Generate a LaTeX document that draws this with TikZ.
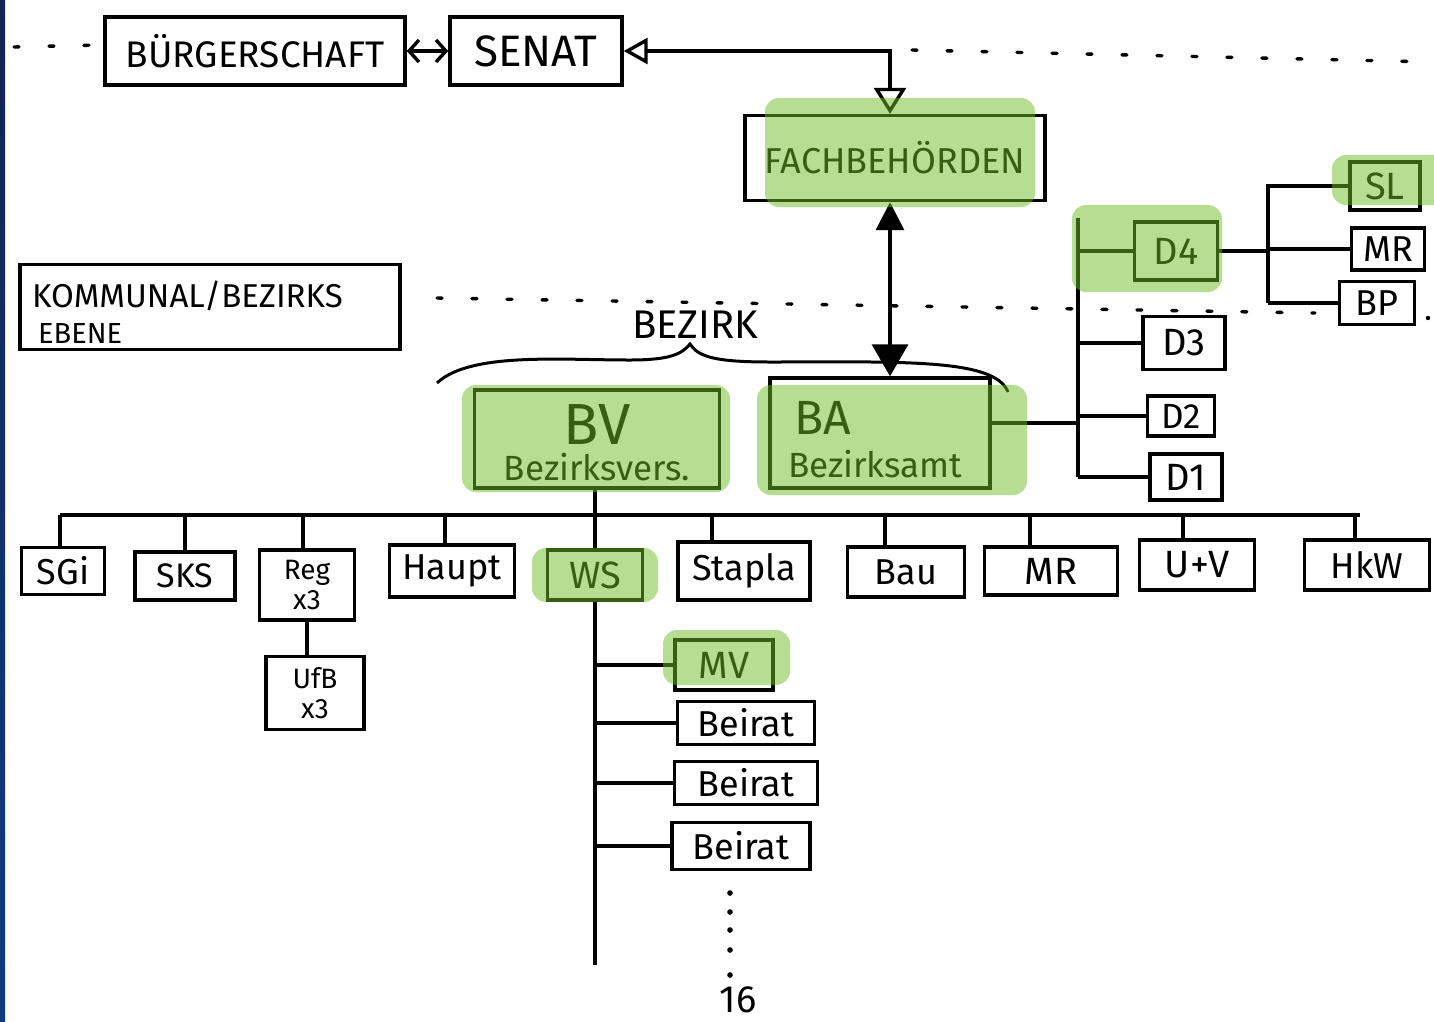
\documentclass[tikz,border=0pt]{standalone}
\usepackage{fontspec}
\setmainfont{Fira Sans}
\usetikzlibrary{arrows.meta,calc}
\newcommand\myfs[1]{\fontsize{#1}{#1}\selectfont}
\begin{document}
\begin{tikzpicture}[x=1pt,y=-1pt,
  box/.style={draw, line width=3.4pt, inner sep=0pt, align=center},
  hl/.style={fill={rgb,255:red,110;green,190;blue,40}, fill opacity=0.5, rounded corners=14pt},
  ln/.style={line width=3.4pt},
  dotline/.style={line width=3.4pt, dash pattern=on 5pt off 30pt, line cap=round},
  lbl/.style={inner sep=0pt, align=left}]
\useasboundingbox (0,0) rectangle (1434,1021);
\fill[white] (0,0) rectangle (1434,1021);
\shade[top color={rgb,255:red,20;green,35;blue,85}, bottom color={rgb,255:red,15;green,60;blue,130}] (0,0) rectangle (5,1021);

% level separators
\draw[dotline] (14,47) -- (100,45);
\draw[dotline] (912,50) -- (1434,62);
\draw[dotline] (437,298) -- (1315,313);
\fill (1428,318) circle (2.2pt);

% top level
\node[box, minimum width=300pt, minimum height=68pt, font=\myfs{37}] (bs) at (255,51) {BÜRGERSCHAFT};
\node[box, minimum width=172pt, minimum height=68pt, font=\myfs{44}] (senat) at (536,51) {SENAT};
\node[box, minimum width=300pt, minimum height=85pt, font=\myfs{36}] (fach) at (895,158) {FACHBEHÖRDEN};
\coordinate (ax) at (890,0);

\draw[ln, {Straight Barb[length=10pt,width=22pt]}-{Straight Barb[length=10pt,width=22pt]}] (bs.east) -- (senat.west);
\draw[ln, {Triangle[open,length=24pt,width=26pt]}-{Triangle[open,length=26pt,width=32pt]}] (senat.east) -| (fach.north -| ax);

% Kommunal level
\node[box, minimum width=380pt, minimum height=85pt] (kom) at (210,307) {};
\node[lbl, font=\myfs{33}, anchor=west] (komt) at (32,296) {KOMMUNAL/BEZIRKS};
\node[lbl, font=\myfs{29}, anchor=west] (komt2) at (38,334) {EBENE};

\node[font=\myfs{40}, inner sep=0pt] (bez) at (695,325) {BEZIRK};
\draw[line width=3pt] (437,383) .. controls (470,352) and (560,360) .. (630,360)
  .. controls (670,360) and (682,354) .. (690,344)
  .. controls (698,356) and (712,362) .. (770,362)
  .. controls (900,362) and (995,358) .. (1008,392);

\node[box, minimum width=245pt, minimum height=98pt] (bv) at (597,439) {};
\node[font=\myfs{58}, inner sep=0pt] (bvt) at (597,425) {BV};
\node[font=\myfs{35}, inner sep=0pt] (bvt2) at (597,467) {Bezirksvers.};

\node[box, minimum width=220pt, minimum height=110pt] (ba) at (880,433) {};
\node[lbl, font=\myfs{48}, anchor=west] (bat) at (794,418) {BA};
\node[lbl, font=\myfs{35}, anchor=west] (bat2) at (788,464) {Bezirksamt};

\draw[ln, {Triangle[length=28pt,width=28pt]}-{Triangle[length=32pt,width=36pt]}] (fach.south -| ax) -- (ba.north -| ax);

% Dezernate
\node[box, minimum width=83pt, minimum height=58pt, font=\myfs{38}] (d4) at (1176,251) {D4};
\node[box, minimum width=82pt, minimum height=53pt, font=\myfs{38}] (d3) at (1184,343) {D3};
\node[box, minimum width=67pt, minimum height=40pt, font=\myfs{35}] (d2) at (1181,416) {D2};
\node[box, minimum width=72pt, minimum height=46pt, font=\myfs{38}] (d1) at (1186,477) {D1};
\coordinate (dtop) at (1078,218);
\draw[ln] (dtop) -- (d1.west -| dtop);
\draw[ln] ($(ba.east)+(0,-10)$) -- ($(ba.east -| dtop)+(0,-10)$);
\draw[ln] (d4.west -| dtop) -- (d4.west);
\draw[ln] (d3.west -| dtop) -- (d3.west);
\draw[ln] (d2.west -| dtop) -- (d2.west);
\draw[ln] (d1.west -| dtop) -- (d1.west);

\node[box, minimum width=70pt, minimum height=48pt, font=\myfs{38}] (sl) at (1385,186) {SL};
\node[box, minimum width=73pt, minimum height=42pt, font=\myfs{36}] (mr1) at (1388,249) {MR};
\node[box, minimum width=75pt, minimum height=43pt, font=\myfs{36}] (bp) at (1377,303) {BP};
\coordinate (rtop) at (1268,184);
\draw[ln] (rtop) -- (bp.west -| rtop);
\draw[ln] (d4.east) -- (d4.east -| rtop);
\draw[ln] (sl.west -| rtop) -- (sl.west);
\draw[ln] (mr1.west -| rtop) -- (mr1.west);
\draw[ln] (bp.west -| rtop) -- (bp.west);

% committees
\coordinate (busL) at (60,515);
\coordinate (busR) at (1360,515);
\draw[ln] (busL) -- (busR);
\node[box, minimum width=83pt, minimum height=47pt, font=\myfs{36}] (sgi) at (63,571) {SGi};
\node[box, minimum width=100pt, minimum height=48pt, font=\myfs{34}] (sks) at (185,576) {SKS};
\node[box, minimum width=95pt, minimum height=70pt, font=\fontsize{28}{30}\selectfont] (reg) at (307,585) {Reg\\x3};
\node[box, minimum width=98pt, minimum height=73pt, font=\fontsize{28}{30}\selectfont] (ufb) at (315,693) {UfB\\x3};
\node[box, minimum width=125pt, minimum height=52pt, font=\myfs{36}] (haupt) at (452,571) {Haupt};
\node[box, minimum width=95pt, minimum height=50pt, font=\myfs{38}] (ws) at (595,575) {WS};
\node[box, minimum width=132pt, minimum height=58pt, font=\myfs{36}] (stapla) at (744,571) {Stapla};
\node[box, minimum width=117pt, minimum height=50pt, font=\myfs{36}] (bau) at (906,572) {Bau};
\node[box, minimum width=133pt, minimum height=48pt, font=\myfs{38}] (mr2) at (1051,571) {MR};
\node[box, minimum width=115pt, minimum height=50pt, font=\myfs{38}] (uv) at (1197,565) {U+V};
\node[box, minimum width=125pt, minimum height=50pt, font=\myfs{36}] (hkw) at (1367,565) {HkW};

\foreach \n/\dx in {sgi/-3,sks/0,reg/-4,haupt/-7,stapla/-32,bau/-21,mr2/-21,uv/-14,hkw/-12}
  \draw[ln] ($(\n.north)+(\dx,0)$) -- ($(\n.north |- busL)+(\dx,0)$);
\draw[ln] (bv.south -| ws.north) -- (ws.north);
\draw[ln] (reg.south) -- (reg.south |- ufb.north);

% WS sub-bodies
\coordinate (wsb) at (595,965);
\draw[ln] (ws.south) -- (wsb);
\node[box, minimum width=98pt, minimum height=50pt, font=\myfs{38}] (mv) at (724,665) {MV};
\node[box, minimum width=137pt, minimum height=43pt, font=\myfs{36}] (br1) at (746,723) {Beirat};
\node[box, minimum width=143pt, minimum height=43pt, font=\myfs{36}] (br2) at (746,783) {Beirat};
\node[box, minimum width=138pt, minimum height=47pt, font=\myfs{36}] (br3) at (741,846) {Beirat};
\foreach \n in {mv,br1,br2,br3}
  \draw[ln] (\n.west -| wsb) -- (\n.west);
\foreach \yy in {893,912,930,950,975}
  \fill (730,\yy) circle (2.8pt);
\node[font=\myfs{38}, inner sep=0pt] (n16) at (738,1000) {16};

% green highlights
\fill[hl] (765,98) rectangle (1035,207);
\fill[hl] (462,385) rectangle (730,492);
\fill[hl] (757,385) rectangle (1027,495);
\fill[hl] (1072,205) rectangle (1222,292);
\fill[hl] (1332,155) rectangle (1448,205);
\fill[hl] (532,548) rectangle (658,602);
\fill[hl] (663,630) rectangle (790,685);
\end{tikzpicture}
\end{document}
